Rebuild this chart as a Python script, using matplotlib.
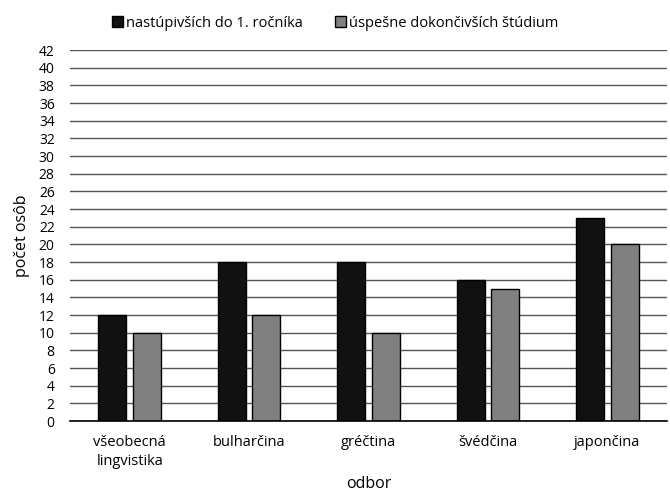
import matplotlib
matplotlib.use("Agg")
import matplotlib.pyplot as plt
import numpy as np

categories = ["všeobecná\nlingvistika", "bulharčina", "gréčtina", "švédčina", "japončina"]
enrolled = [12, 18, 18, 16, 23]
graduated = [10, 12, 10, 15, 20]
series_names = ["nastúpivších do 1. ročníka", "úspešne dokončivších štúdium"]
yticks = list(range(0, 43, 2))

plt.rcParams['font.family'] = ['Open Sans', 'DejaVu Sans']

fig = plt.figure(figsize=(6.7, 4.96), dpi=100)
ax = fig.add_axes([0.1045, 0.151, 0.891, 0.748])

x = np.arange(len(categories))
w = 0.235
gap = 0.055
ax.bar(x - (w + gap) / 2, enrolled, w, color="#111111", edgecolor="black", linewidth=1, label=series_names[0], zorder=3)
ax.bar(x + (w + gap) / 2, graduated, w, color="#808080", edgecolor="black", linewidth=1, label=series_names[1], zorder=3)

ax.set_xlim(-0.5, len(categories) - 0.5)
ax.set_ylim(0, 42)
ax.set_yticks(yticks)
ax.set_yticklabels([str(t) for t in yticks], fontsize=10)
ax.set_xticks(x)
ax.set_xticklabels(categories, fontsize=10.5, linespacing=1.4)
ax.tick_params(axis='both', length=0)
ax.tick_params(axis='y', pad=11)
ax.tick_params(axis='x', pad=10)
ax.grid(axis='y', color='#555555', linewidth=1, zorder=0)
for s in ['top', 'right', 'left']:
    ax.spines[s].set_visible(False)
ax.spines['bottom'].set_color('black')
ax.spines['bottom'].set_linewidth(1.2)
ax.spines['bottom'].set_zorder(4)

ax.set_ylabel("počet osôb", fontsize=11.5, labelpad=6)
ax.set_xlabel("odbor", fontsize=11.5, labelpad=5)

leg = fig.legend(loc='upper center', bbox_to_anchor=(0.5, 0.995), ncol=2, frameon=False,
                 fontsize=10.5, handlelength=0.75, handleheight=0.75, handletextpad=0.2,
                 columnspacing=2.2)

fig.savefig("out.png", dpi=100)
